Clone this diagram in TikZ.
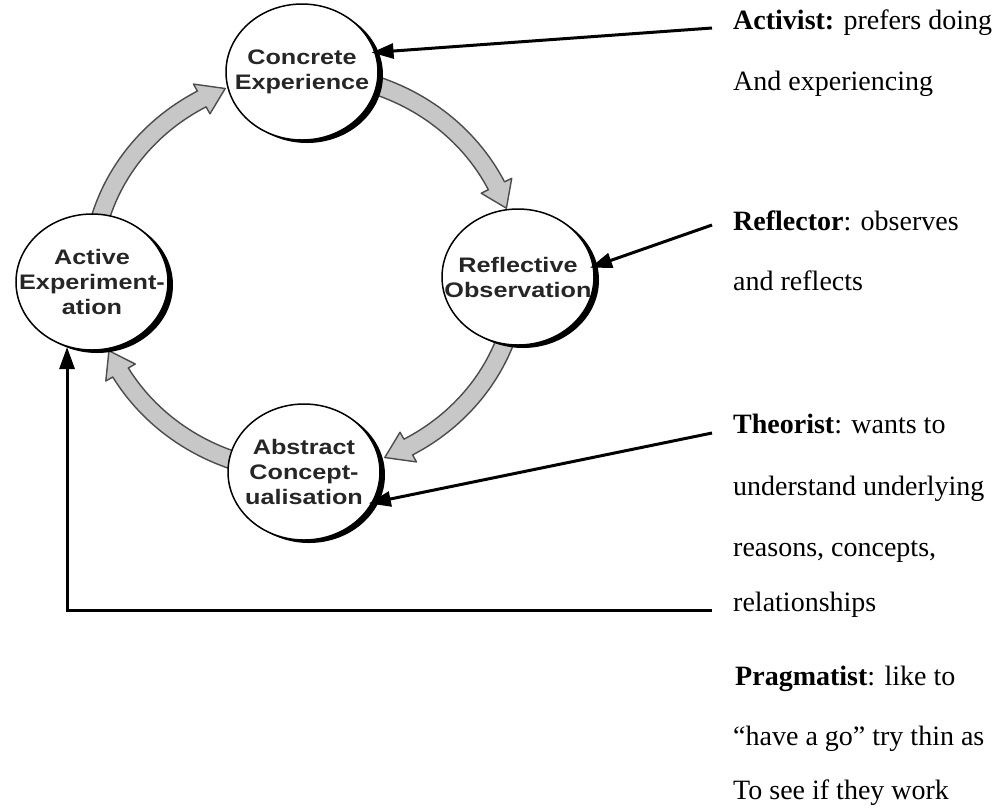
\documentclass[tikz,border=0pt]{standalone}
\usepackage{fontspec}
\setmainfont{Liberation Serif}
\newfontfamily\circfont[FakeStretch=1.2]{Liberation Sans}
\usetikzlibrary{shapes.geometric,arrows.meta,shadows}

% geometry of the learning cycle (centre and radii of the ring the arrows follow)
\def\cycx{305}
\def\cycy{-273}
\def\cycrx{213}
\def\cycry{199}

% curved block arrow along the ring, from tail angle #1 clockwise to tip angle #2
\newcommand\ringarrow[2]{%
  \pgfmathsetmacro\headbase{#2+7}%
  \filldraw[ringarrowstyle]
    plot[domain=#1:\headbase, samples=30]
      ({\cycx+(\cycrx+9)*cos(\x)},{\cycy+(\cycry+9)*sin(\x)})
    -- ({\cycx+(\cycrx+17)*cos(\headbase)},{\cycy+(\cycry+17)*sin(\headbase)})
    -- ({\cycx+\cycrx*cos(#2)},{\cycy+\cycry*sin(#2)})
    -- ({\cycx+(\cycrx-17)*cos(\headbase)},{\cycy+(\cycry-17)*sin(\headbase)})
    -- plot[domain=\headbase:#1, samples=30]
      ({\cycx+(\cycrx-9)*cos(\x)},{\cycy+(\cycry-9)*sin(\x)})
    -- cycle;}

\begin{document}
\begin{tikzpicture}[x=1pt,y=1pt,
  stage/.style={ellipse, draw=black, line width=1.5pt, fill=white,
    minimum width=152pt, minimum height=136pt, inner sep=0pt,
    drop shadow={shadow xshift=5pt, shadow yshift=-3pt, opacity=1, fill=black}},
  stagetext/.style={align=center, inner sep=0pt,
    font=\circfont\bfseries\fontsize{21}{25}\selectfont, text=black!85},
  linetext/.style={anchor=base west, inner sep=0pt, font=\fontsize{28}{34}\selectfont},
  pointer/.style={line width=3pt, -{Triangle[length=22pt,width=15pt]}},
  ringarrowstyle/.style={fill=black!22, draw=black!70, line width=1.4pt, line join=round}
]
\useasboundingbox (0,0) rectangle (1000,-807);

% cycle arrows between the four stages
\ringarrow{166}{112}
\ringarrow{72}{19}
\ringarrow{-18}{-68}
\ringarrow{-108}{-157}

% the four stages
\node[stage] (ce) at (302,-72)  {};
\node[stage] (ro) at (518,-277) {};
\node[stage] (ac) at (304,-472) {};
\node[stage] (ae) at (92,-282)  {};
\node[stagetext] (cet) at (ce) {Concrete\\Experience};
\node[stagetext] (rot) at (ro) {Reflective\\Observation};
\node[stagetext] (act) at (ac) {Abstract\\Concept-\\ualisation};
\node[stagetext] (aet) at (ae) {Active\\Experiment-\\ation};

% learner types
\node[linetext] (act1) at (733,-29)  {\textbf{Activist:} prefers doing};
\node[linetext] (act2) at (733,-90)  {And experiencing};
\node[linetext] (ref1) at (733,-230) {\textbf{Reflector}: observes};
\node[linetext] (ref2) at (733,-290) {and reflects};
\node[linetext] (the1) at (733,-433) {\textbf{Theorist}: wants to};
\node[linetext] (the2) at (733,-495) {understand underlying};
\node[linetext] (the3) at (733,-556) {reasons, concepts,};
\node[linetext] (the4) at (733,-611) {relationships};
\node[linetext] (pra1) at (735,-685) {\textbf{Pragmatist}: like to};
\node[linetext] (pra2) at (733,-745) {``have a go'' try thin as};
\node[linetext] (pra3) at (733,-799) {To see if they work};

% pointers from each learner type to its stage
\coordinate (actfrom) at (712,-28);
\coordinate (reffrom) at (712,-225);
\coordinate (thefrom) at (712,-433);
\coordinate (prafrom) at (712,-610);
\draw[pointer, shorten >=-4pt] (actfrom) -- (ce.15);
\draw[pointer, shorten >=-4pt] (reffrom) -- (ro.8);
\draw[pointer, shorten >=-4pt] (thefrom) -- (ac.-24);
\draw[pointer] (prafrom) -| (ae.-111);
\end{tikzpicture}
\end{document}
